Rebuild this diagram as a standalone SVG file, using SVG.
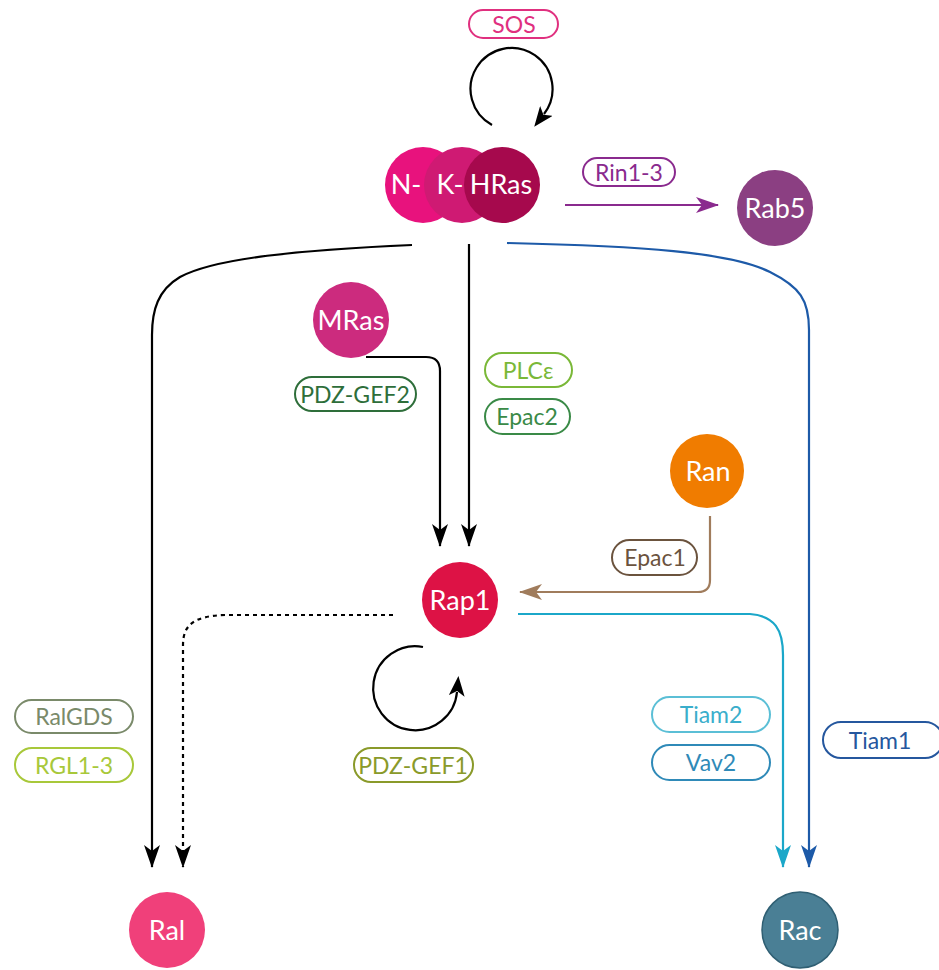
<svg xmlns="http://www.w3.org/2000/svg" width="939" height="970" viewBox="0 0 939 970">
<style>
text{font-family:Lato,"Open Sans",sans-serif;text-anchor:middle;dominant-baseline:central}
.nt{fill:#fff;font-size:27px}
.pt{font-size:23px}
.pill{fill:#fff;stroke-width:2}
.c{fill:none;stroke-width:2.2}
</style>
<defs>
<marker id="ak" markerUnits="userSpaceOnUse" markerWidth="26" markerHeight="16" refX="22" refY="8" orient="auto"><path d="M0,0 L23,8 L0,16 L6,8 z" fill="#000"/></marker>
<marker id="al" markerUnits="userSpaceOnUse" markerWidth="26" markerHeight="16" refX="4" refY="8" orient="auto"><path d="M0,0 L20,8 L0,16 L5,8 z" fill="#000"/></marker>
<marker id="ap" markerUnits="userSpaceOnUse" markerWidth="26" markerHeight="16" refX="22" refY="8" orient="auto"><path d="M0,0 L23,8 L0,16 L6,8 z" fill="#8a2a8e"/></marker>
<marker id="ab" markerUnits="userSpaceOnUse" markerWidth="26" markerHeight="16" refX="22" refY="8" orient="auto"><path d="M0,0 L23,8 L0,16 L6,8 z" fill="#a07c5c"/></marker>
<marker id="ac" markerUnits="userSpaceOnUse" markerWidth="26" markerHeight="16" refX="22" refY="8" orient="auto"><path d="M0,0 L23,8 L0,16 L6,8 z" fill="#1ba7c9"/></marker>
<marker id="ad" markerUnits="userSpaceOnUse" markerWidth="26" markerHeight="16" refX="22" refY="8" orient="auto"><path d="M0,0 L23,8 L0,16 L6,8 z" fill="#1d5aa8"/></marker>
</defs>

<g id="connectors">
<path class="c" stroke="#000" d="M492,125 A41,41 0 1 1 544,114" marker-end="url(#al)"/>
<path class="c" stroke="#8a2a8e" d="M565,205 L718,205" marker-end="url(#ap)"/>
<path class="c" stroke="#000" d="M412,245 C300,250 215,258 180,277 C158,290 152,310 152,335 L152,867" marker-end="url(#ak)"/>
<path class="c" stroke="#000" d="M469,244 L469,546" marker-end="url(#ak)"/>
<path class="c" stroke="#1d5aa8" d="M507,243 C640,246 730,252 770,272 C800,287 809,300 809,330 L809,867" marker-end="url(#ad)"/>
<path class="c" stroke="#000" d="M366,357 L426,357 Q440,357 440,371 L440,546" marker-end="url(#ak)"/>
<path class="c" stroke="#a07c5c" d="M710,516 L710,580 Q710,592 698,592 L520,592" marker-end="url(#ab)"/>
<path class="c" stroke="#1ba7c9" d="M518,614 L750,614 C775,616 783,630 783,655 L783,867" marker-end="url(#ac)"/>
<path class="c" stroke="#000" stroke-dasharray="4,4" stroke-width="2.5" d="M393,615 L225,615 C195,616 183,624 183,645 L183,867" marker-end="url(#ak)"/>
<path class="c" stroke="#000" d="M423,647 A42,42 0 1 0 457,692" marker-end="url(#al)"/>
</g>

<g id="SOS"><rect class="pill" x="469" y="10" width="89" height="28" rx="14" stroke="#e0307f"/><text class="pt" x="514" y="24" fill="#e0307f">SOS</text></g>

<g id="NKHRas">
<circle cx="423" cy="185" r="38" fill="#e8127d"/>
<circle cx="462" cy="185" r="38" fill="#cf1a73"/>
<circle cx="502" cy="185" r="38" fill="#a6094d"/>
<text class="nt" x="406" y="183">N-</text>
<text class="nt" x="450" y="183">K-</text>
<text class="nt" x="501" y="183">HRas</text>
</g>

<g id="Rin13"><rect class="pill" x="583" y="158" width="92" height="28" rx="14" stroke="#8a2a8e"/><text class="pt" x="629" y="172" fill="#8a2a8e">Rin1-3</text></g>
<g id="Rab5"><circle cx="775" cy="208" r="38" fill="#8b3f82"/><text class="nt" x="775" y="207">Rab5</text></g>

<g id="MRas"><circle cx="351" cy="320" r="38" fill="#cc2b7e"/><text class="nt" x="351" y="319">MRas</text></g>
<g id="PDZGEF2"><rect class="pill" x="295" y="377" width="121" height="34" rx="17" stroke="#2e6e3a"/><text class="pt" x="355" y="394" fill="#2e6e3a">PDZ-GEF2</text></g>
<g id="PLCe"><rect class="pill" x="485" y="353" width="87" height="34" rx="17" stroke="#7ab838"/><text class="pt" x="528" y="370" fill="#7ab838">PLCε</text></g>
<g id="Epac2"><rect class="pill" x="485" y="399" width="85" height="35" rx="17.5" stroke="#3a8a47"/><text class="pt" x="527" y="416" fill="#3a8a47">Epac2</text></g>

<g id="Ran"><circle cx="707" cy="471" r="37" fill="#f07c00"/><text class="nt" x="708" y="470">Ran</text></g>
<g id="Epac1"><rect class="pill" x="612" y="540" width="85" height="35" rx="17.5" stroke="#6b533e"/><text class="pt" x="655" y="557" fill="#6b533e">Epac1</text></g>

<g id="Rap1"><circle cx="460" cy="600" r="38" fill="#dd1245"/><text class="nt" x="460" y="599">Rap1</text></g>
<g id="PDZGEF1"><rect class="pill" x="354" y="748" width="119" height="34" rx="17" stroke="#8a9a2a"/><text class="pt" x="413" y="765" fill="#8a9a2a">PDZ-GEF1</text></g>

<g id="RalGDS"><rect class="pill" x="15" y="700" width="118" height="33" rx="16.5" stroke="#7a8a6a"/><text class="pt" x="74" y="716" fill="#7a8a6a">RalGDS</text></g>
<g id="RGL13"><rect class="pill" x="15" y="748" width="118" height="34" rx="17" stroke="#a8c83a"/><text class="pt" x="74" y="765" fill="#a8c83a">RGL1-3</text></g>

<g id="Tiam2"><rect class="pill" x="652" y="697" width="118" height="35" rx="17.5" stroke="#5bbfd6"/><text class="pt" x="711" y="714" fill="#3aaecb">Tiam2</text></g>
<g id="Vav2"><rect class="pill" x="652" y="745" width="118" height="35" rx="17.5" stroke="#2f8ab8"/><text class="pt" x="711" y="762" fill="#2f8ab8">Vav2</text></g>
<g id="Tiam1"><rect class="pill" x="823" y="722" width="120" height="36" rx="18" stroke="#25579e"/><text class="pt" x="880" y="740" fill="#25579e">Tiam1</text></g>

<g id="Ral"><circle cx="167" cy="930" r="38" fill="#f0407a"/><text class="nt" x="167" y="929">Ral</text></g>
<g id="Rac"><circle cx="800" cy="930" r="38" fill="#4a7f95" stroke="#2f5f73" stroke-width="1.5"/><text class="nt" x="800" y="929">Rac</text></g>
</svg>
